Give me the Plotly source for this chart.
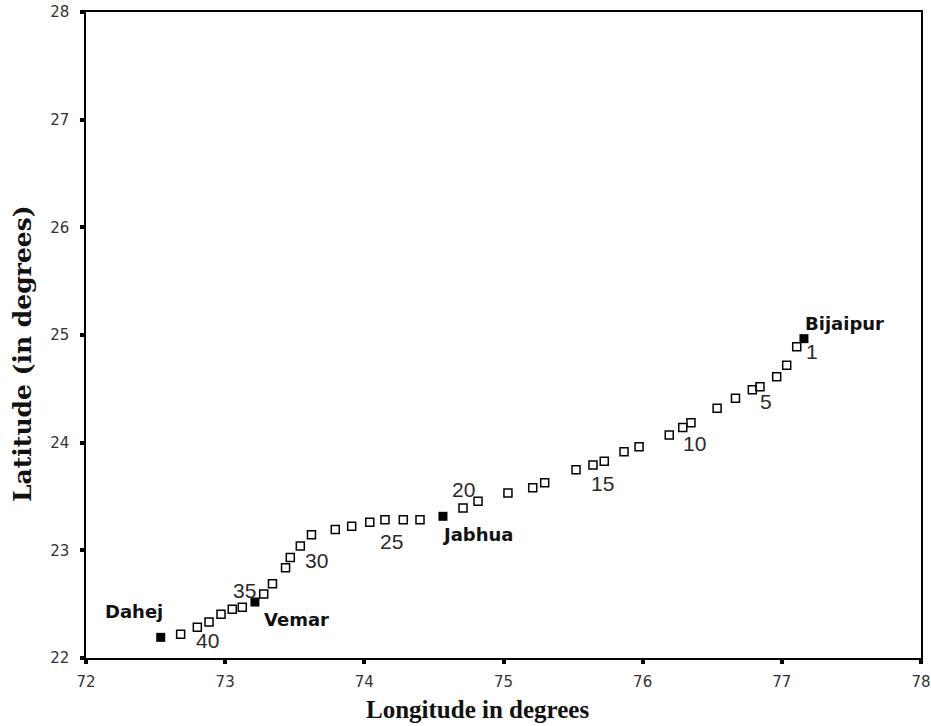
import plotly.graph_objects as go

# Stations (open squares), ordered from Bijaipur towards Dahej
station_lon = [77.107, 77.035, 76.963, 76.843, 76.788, 76.667, 76.535, 76.347, 76.288, 76.191,
               75.974, 75.866, 75.724, 75.643, 75.521, 75.296, 75.210, 75.032, 74.817, 74.709,
               74.400, 74.280, 74.148, 74.039, 73.909, 73.791, 73.620, 73.540, 73.468, 73.434,
               73.340, 73.277,
               73.123, 73.051, 72.970, 72.884, 72.800, 72.680]
station_lat = [24.891, 24.719, 24.613, 24.520, 24.492, 24.413, 24.320, 24.185, 24.141, 24.071,
               23.962, 23.916, 23.827, 23.793, 23.749, 23.628, 23.582, 23.532, 23.455, 23.393,
               23.284, 23.284, 23.284, 23.260, 23.223, 23.193, 23.145, 23.040, 22.933, 22.839,
               22.690, 22.594,
               22.471, 22.452, 22.406, 22.334, 22.285, 22.220]

# Cities (filled squares)
city_names = ["Bijaipur", "Jabhua", "Vemar", "Dahej"]
city_lon = [77.159, 74.565, 73.214, 72.537]
city_lat = [24.966, 23.316, 22.520, 22.192]

# Station number labels and the station (index in arrays above) they belong to
label_text = ["1", "5", "10", "15", "20", "25", "30", "35", "40"]
label_index = [0, 4, 9, 14, 19, 23, 28, 32, 37]

x_ticks = [72, 73, 74, 75, 76, 77, 78]
y_ticks = [22, 23, 24, 25, 26, 27, 28]

# label offsets in pixels (style)
label_shift = [(15, -5), (14, -12), (25, -8), (26, -14), (0, 19), (22, -19), (26, -3), (2, 17), (27, -6)]
city_shift = [(41, 15), (35, -18), (42, -17), (-27, 26)]

fig = go.Figure()
fig.add_trace(go.Scatter(
    x=station_lon, y=station_lat, mode="markers",
    marker=dict(symbol="square-open", size=8, color="black", line=dict(width=1.5, color="black")),
    hoverinfo="skip", showlegend=False, cliponaxis=False))
fig.add_trace(go.Scatter(
    x=city_lon, y=city_lat, mode="markers",
    marker=dict(symbol="square", size=9, color="black"),
    hoverinfo="skip", showlegend=False, cliponaxis=False))

annotations = []
for t, i, (dx, dy) in zip(label_text, label_index, label_shift):
    annotations.append(dict(x=station_lon[i], y=station_lat[i], xref="x", yref="y", text=t,
                            showarrow=False, xshift=dx, yshift=dy,
                            font=dict(family="Liberation Sans, Arial, sans-serif", size=21, color="#2a2a2a")))
for n, lo, la, (dx, dy) in zip(city_names, city_lon, city_lat, city_shift):
    annotations.append(dict(x=lo, y=la, xref="x", yref="y", text="<b>" + n + "</b>",
                            showarrow=False, xshift=dx, yshift=dy,
                            font=dict(family="DejaVu Sans, sans-serif", size=18, color="#111111")))

annotations.append(dict(x=0.469, y=0, xref="paper", yref="paper", text="<b>Longitude in degrees</b>",
                        showarrow=False, xanchor="center", yanchor="middle", yshift=-51,
                        font=dict(family="Liberation Serif, Times New Roman, serif", size=25, color="#111111")))
annotations.append(dict(x=0, y=0.4706, xref="paper", yref="paper", text="<b>Latitude (in degrees)</b>",
                        showarrow=False, xanchor="center", yanchor="middle", xshift=-63, textangle=-90,
                        font=dict(family="DejaVu Serif, serif", size=25, color="#111111")))

axis_common = dict(showgrid=False, zeroline=False, showline=True, linecolor="black", linewidth=1.5,
                   mirror=True, ticks="outside", ticklen=4, tickwidth=4, tickcolor="black",
                   automargin=False,
                   tickfont=dict(family="DejaVu Sans, sans-serif", size=15, color="#333333"))

fig.update_layout(
    width=931, height=726,
    margin=dict(l=86, r=10, t=12, b=68, autoexpand=False),
    paper_bgcolor="white", plot_bgcolor="white",
    xaxis=dict(range=[72, 78], tickvals=x_ticks, ticktext=[str(v) for v in x_ticks],
               ticklabelstandoff=5, **axis_common),
    yaxis=dict(range=[22, 28], tickvals=y_ticks, ticktext=[str(v) for v in y_ticks],
               ticklabelstandoff=8, **axis_common),
    annotations=annotations,
)

# remove the default page margin so the figure sits at the window's top-left corner
fig.write_html("out.html",
               config={"displayModeBar": False},
               post_script="document.body.style.margin='0';document.body.style.overflow='hidden';")
